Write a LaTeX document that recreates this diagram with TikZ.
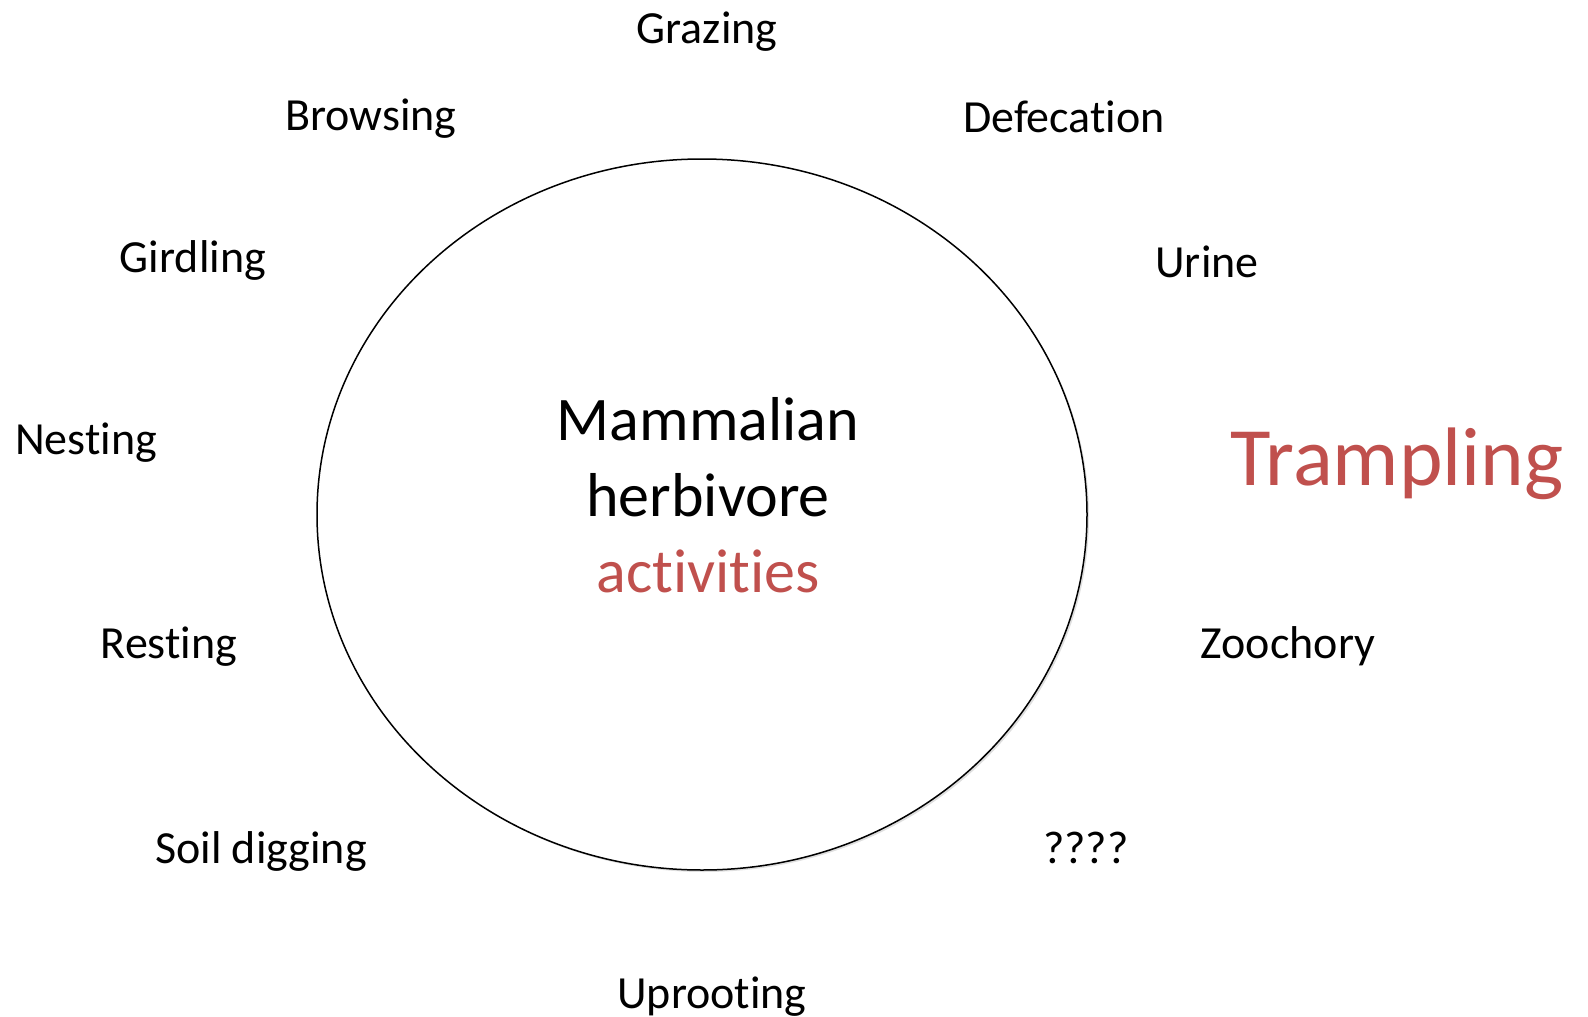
\documentclass[tikz,border=0pt]{standalone}
\usepackage{fontspec}
\setmainfont[Ligatures={NoCommon}]{Carlito}
\usepackage{xcolor}
\usepackage{tikz}
\usetikzlibrary{shapes.geometric,shadows}

\definecolor{actred}{RGB}{192,80,77}

\begin{document}
\begin{tikzpicture}[x=1pt,y=-1pt]
\tikzstyle{every node}=[inner sep=0pt, anchor=base];
\tikzstyle{act}=[font=\fontsize{46}{56}\selectfont];

\useasboundingbox (0,0) rectangle (1588,1017);

% the circle of activities
\node[draw, fill=white, line width=1.5pt, ellipse, anchor=center, minimum width=770pt, minimum height=711pt,
      drop shadow={opacity=0.25, shadow xshift=2pt, shadow yshift=-2pt}] (hub) at (702,514.5) {};
\node[align=center, anchor=center, font=\fontsize{62}{76}\selectfont] (title) at (708,495)
  {Mammalian\\herbivore\\\textcolor{actred}{activities}};

\node[act] (grazing) at (707,43) {Grazing};
\node[act] (browsing) at (371,130) {Browsing};
\node[act] (defecation) at (1064,132) {Defecation};
\node[act] (girdling) at (193,272) {Girdling};
\node[act] (urine) at (1207,277) {Urine};
\node[act] (nesting) at (86,454) {Nesting};
\node[font=\fontsize{83}{100}\selectfont, text=actred] (trampling) at (1397,485) {Trampling};
\node[act] (resting) at (169,658) {Resting};
\node[act] (zoochory) at (1288,658) {Zoochory};
\node[act] (digging) at (261,863) {Soil digging};
\node[act] (unknown) at (1086,863) {????};
\node[act] (uprooting) at (712,1008) {Uprooting};
\end{tikzpicture}
\end{document}
